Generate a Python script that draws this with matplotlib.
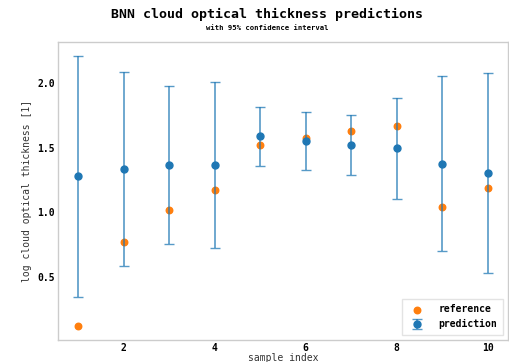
import matplotlib
matplotlib.use('Agg')
import matplotlib.pyplot as plt
import numpy as np

# values
sample_index = np.arange(1, 11)
prediction = [1.28, 1.335, 1.364, 1.364, 1.588, 1.554, 1.523, 1.498, 1.374, 1.304]
upper = [2.216, 2.087, 1.979, 2.008, 1.815, 1.776, 1.753, 1.887, 2.054, 2.080]
lower = [0.344, 0.583, 0.753, 0.720, 1.361, 1.330, 1.291, 1.106, 0.699, 0.532]
reference = [0.114, 0.769, 1.019, 1.176, 1.523, 1.577, 1.627, 1.673, 1.037, 1.189]

plt.rcParams['font.family'] = ['DejaVu Sans Mono']

fig = plt.figure(figsize=(5.1, 3.62), dpi=100)
ax = fig.add_axes([58 / 510, 22 / 362, 450 / 510, 298 / 362])

pred = np.array(prediction)
yerr = [pred - np.array(lower), np.array(upper) - pred]

h_ref = ax.scatter(sample_index, reference, color='#ff7f0e', s=22, zorder=2, label='reference')
h_pred = ax.errorbar(sample_index, pred, yerr=yerr, fmt='o', color='#1f77b4', ecolor=(0.12, 0.47, 0.71, 0.75),
                     markersize=5, elinewidth=1.2, capsize=3.5, capthick=1.0, zorder=3, label='prediction')

ax.set_xticks([2, 4, 6, 8, 10])
ax.set_yticks([0.5, 1.0, 1.5, 2.0])
ax.tick_params(labelsize=7, length=0, pad=2)
for lbl in ax.get_xticklabels() + ax.get_yticklabels():
    lbl.set_fontweight('bold')

for sp in ax.spines.values():
    sp.set_color('#cccccc')
    sp.set_linewidth(1.0)

ax.set_ylabel('log cloud optical thickness [1]', fontsize=7, color='#333333')
ax.set_xlabel('sample index', fontsize=7, color='#333333', labelpad=0)

leg = ax.legend(handles=[h_ref, h_pred], loc='lower right', prop={'size': 7, 'weight': 'bold'},
                frameon=True, borderpad=0.6, handletextpad=1.2, fancybox=False)
leg.get_frame().set_edgecolor('#dddddd')

fig.text(0.524, 0.96, 'BNN cloud optical thickness predictions', ha='center', va='center',
         fontsize=9.5, fontweight='bold')
fig.text(0.524, 0.923, 'with 95% confidence interval', ha='center', va='center',
         fontsize=5.2, fontweight='bold')

plt.savefig('out.png', dpi=100)
plt.close()
